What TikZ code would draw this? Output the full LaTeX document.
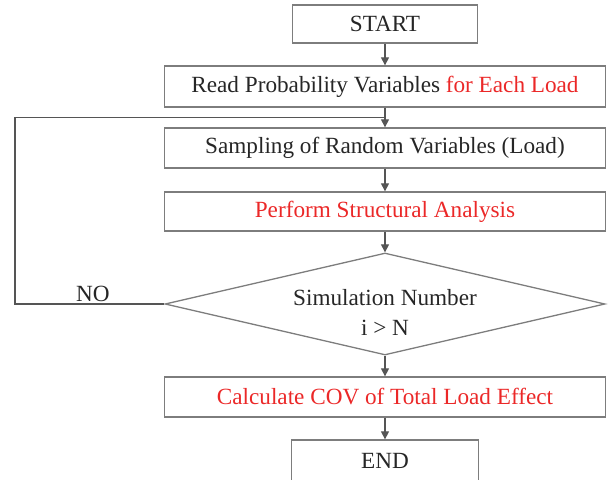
\documentclass[tikz,border=0pt]{standalone}
\usepackage{fontspec}
\setmainfont{Liberation Serif}
\usetikzlibrary{shapes.geometric,arrows.meta}
\definecolor{redtxt}{RGB}{235,40,40}
\definecolor{linegray}{RGB}{85,85,85}
\definecolor{boxgray}{RGB}{125,125,125}
\begin{document}
\begin{tikzpicture}[x=1pt,y=-1pt,
  box/.style={draw=boxgray, line width=1.3pt, rectangle, inner sep=0pt,
    text=black!85, font=\fontsize{23.2pt}{30pt}\selectfont},
  dia/.style={draw=boxgray, line width=1.3pt, diamond, inner sep=0pt,
    minimum width=440pt, minimum height=102pt},
  txt/.style={inner sep=0pt, align=center, text=black!85,
    font=\fontsize{23.2pt}{30pt}\selectfont},
  conn/.style={draw=linegray, line width=1.2pt},
  arr/.style={conn, -{Triangle[length=8pt,width=8pt]}}
]
\useasboundingbox (0,0) rectangle (610,479);
\clip (0,0) rectangle (610,479);

\node[box, minimum width=185pt, minimum height=38pt] (start) at (385,24) {START};
\node[box, minimum width=441pt, minimum height=41pt] (read) at (385,86.5)
  {Read Probability Variables \textcolor{redtxt}{for Each Load}};
\node[box, minimum width=441pt, minimum height=40pt] (samp) at (385,148)
  {Sampling of Random Variables (Load)};
\node[box, minimum width=441pt, minimum height=39pt, text=redtxt] (perf) at (385,211.5)
  {Perform Structural Analysis};
\node[dia] (dec) at (385,304) {};
\node[txt] (dectext) at (385,312) {Simulation Number\\i > N};
\node[box, minimum width=441pt, minimum height=40pt, text=redtxt] (calc) at (385,397)
  {Calculate COV of Total Load Effect};
\node[box, minimum width=187pt, minimum height=41pt] (end) at (385,460.5) {END};

\node[txt, anchor=base] (no) at (93,301) {NO};

\coordinate (j) at (385,117.5);
\coordinate (loopcorner) at (15,304);

\draw[arr] (start.south) -- (read.north);
\draw[arr] (read.south) -- (samp.north);
\draw[arr] (samp.south) -- (perf.north);
\draw[arr] (perf.south) -- (dec.north);
\draw[arr] (dec.south) -- (calc.north);
\draw[arr] (calc.south) -- (end.north);
\draw[conn] (dec.west) -- (loopcorner) |- (j);
\end{tikzpicture}
\end{document}
